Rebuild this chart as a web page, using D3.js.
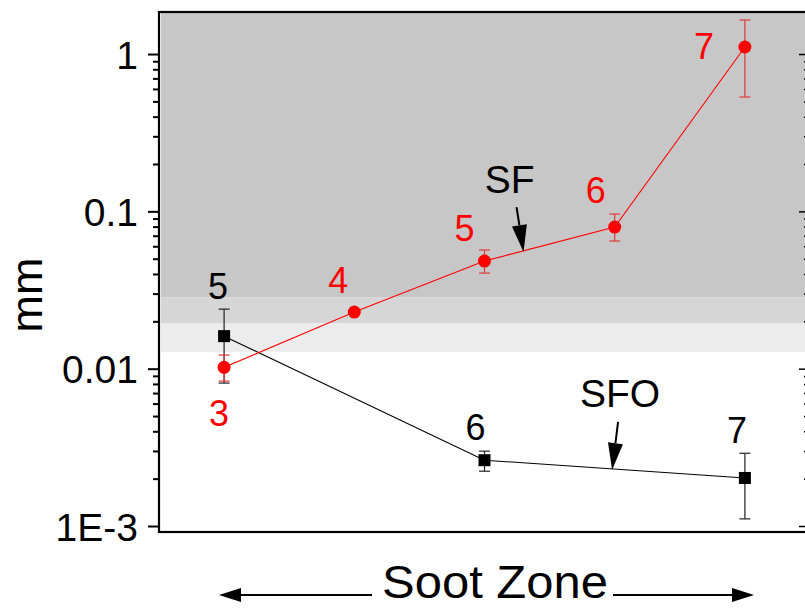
<!DOCTYPE html>
<html><head><meta charset="utf-8">
<script src="https://cdn.jsdelivr.net/npm/d3@7"></script>
<style>
html,body{margin:0;padding:0;background:#fff;}
svg{display:block;font-family:"Liberation Sans",Arial,sans-serif;}
</style></head>
<body><svg id="chart" width="805" height="608"></svg>
<script>
// ---- data ----
const sfPos = [1, 2, 3, 4, 5];
const sfLabels = ["3", "4", "5", "6", "7"];
const sfValues = [0.0102, 0.0229, 0.0483, 0.0795, 1.108];
const sfErrLow = [0.00834, null, 0.0405, 0.0648, 0.533];
const sfErrHigh = [0.0122, null, 0.0568, 0.0961, 1.645];

const sfoPos = [1, 3, 5];
const sfoLabels = ["5", "6", "7"];
const sfoValues = [0.0161, 0.00262, 0.00202];
const sfoErrLow = [0.0081, 0.00223, 0.00111];
const sfoErrHigh = [0.0239, 0.00299, 0.0029];

const yTickValues = [0.001, 0.01, 0.1, 1];
const yTickLabels = ["1E-3", "0.01", "0.1", "1"];
const bandLimits = [0.0285, 0.0195, 0.0128]; // lower edges of shaded bands
const yTitle = "mm";
const xTitle = "Soot Zone";
const sfNote = {text: "SF", x: 3.30, y: 0.0551};
const sfoNote = {text: "SFO", x: 3.98, y: 0.00227};

// ---- layout ----
const svg = d3.select("#chart");
const L = 159, R = 810, T = 12, B = 532;
const x = d3.scaleLinear().domain([0.5, 5.5]).range([L, R]);
const y = d3.scaleLog().domain([0.000916, 1.85]).range([B, T]);

// shaded bands
const bandColors = ["#c7c7c7", "#d6d6d6", "#ececec"];
let prevTop = T;
bandLimits.forEach((v, i) => {
  const yb = y(v);
  svg.append("rect").attr("x", L + 2).attr("y", prevTop).attr("width", R - L)
     .attr("height", yb - prevTop).attr("fill", bandColors[i]);
  prevTop = yb;
});

// axes
const minor = [];
for (let e = -4; e <= 0; e++) for (let k = 2; k <= 9; k++) {
  const v = k * Math.pow(10, e);
  if (v >= y.domain()[0] && v <= y.domain()[1]) minor.push(v);
}
const fmt = d => yTickLabels[yTickValues.indexOf(d)];
const gL = svg.append("g").attr("transform", `translate(${L},0)`);
gL.call(d3.axisLeft(y).tickValues(yTickValues).tickFormat(fmt).tickSize(11).tickPadding(10));
gL.append("g").call(d3.axisLeft(y).tickValues(minor).tickFormat("").tickSize(6));
gL.selectAll(".domain").remove();
gL.selectAll("line").attr("stroke", "#000").attr("stroke-width", 2);
gL.selectAll("text").attr("font-size", 39).attr("fill", "#000")
  .attr("font-family", "'Liberation Sans',Arial,sans-serif").attr("dy", "0.36em");

const gR = svg.append("g").attr("transform", `translate(${R},0)`);
gR.call(d3.axisLeft(y).tickValues(yTickValues).tickFormat("").tickSize(11));
gR.append("g").call(d3.axisLeft(y).tickValues(minor).tickFormat("").tickSize(6));
gR.selectAll(".domain").remove();
gR.selectAll("line").attr("stroke", "#000").attr("stroke-width", 1.5);

// frame
svg.append("rect").attr("x", L).attr("y", T).attr("width", R - L).attr("height", B - T)
   .attr("fill", "none").attr("stroke", "#000").attr("stroke-width", 2.2);

// series drawing helper
function drawSeries(pos, vals, lo, hi, color, errColor, marker) {
  const pts = pos.map((p, i) => [x(p), y(vals[i])]);
  svg.append("path").attr("d", d3.line()(pts)).attr("fill", "none")
     .attr("stroke", color).attr("stroke-width", 1.1);
  pos.forEach((p, i) => {
    if (lo[i] == null) return;
    const cx = x(p), y1 = y(hi[i]), y2 = y(lo[i]);
    const g = svg.append("g").attr("stroke", errColor).attr("stroke-width", 1.2);
    g.append("line").attr("x1", cx).attr("x2", cx).attr("y1", y1).attr("y2", y2);
    g.append("line").attr("x1", cx - 5.5).attr("x2", cx + 5.5).attr("y1", y1).attr("y2", y1);
    g.append("line").attr("x1", cx - 5.5).attr("x2", cx + 5.5).attr("y1", y2).attr("y2", y2);
  });
  pts.forEach(([px, py]) => {
    if (marker === "circle") svg.append("circle").attr("cx", px).attr("cy", py).attr("r", 6.5).attr("fill", color);
    else svg.append("rect").attr("x", px - 6).attr("y", py - 6).attr("width", 12).attr("height", 12).attr("fill", color);
  });
}
drawSeries(sfoPos, sfoValues, sfoErrLow, sfoErrHigh, "#000", "#222", "square");
drawSeries(sfPos, sfValues, sfErrLow, sfErrHigh, "#ff0000", "#e03a3a", "circle");

// point labels (offsets from their points)
const sfOff = [[-5, 59], [-16, -19], [-20, -20], [-19, -24], [-41, 12]];
const sfoOff = [[-6, -37], [-9, -20], [-8, -35]];
sfPos.forEach((p, i) => svg.append("text").attr("x", x(p) + sfOff[i][0]).attr("y", y(sfValues[i]) + sfOff[i][1])
  .attr("text-anchor", "middle").attr("font-size", 36).attr("fill", "#ff0000").text(sfLabels[i]));
sfoPos.forEach((p, i) => svg.append("text").attr("x", x(p) + sfoOff[i][0]).attr("y", y(sfoValues[i]) + sfoOff[i][1])
  .attr("text-anchor", "middle").attr("font-size", 36).attr("fill", "#000").text(sfoLabels[i]));

// arrow helper
function arrow(x1, y1, x2, y2, headLen, headW) {
  const ang = Math.atan2(y2 - y1, x2 - x1);
  const bx = x2 - headLen * Math.cos(ang), by = y2 - headLen * Math.sin(ang);
  const nx = -Math.sin(ang) * headW / 2, ny = Math.cos(ang) * headW / 2;
  svg.append("line").attr("x1", x1).attr("y1", y1).attr("x2", bx).attr("y2", by)
     .attr("stroke", "#000").attr("stroke-width", 2);
  svg.append("path").attr("d", `M${x2},${y2}L${bx + nx},${by + ny}L${bx - nx},${by - ny}Z`).attr("fill", "#000");
}
// SF annotation
{
  const tx = x(sfNote.x), ty = y(sfNote.y);
  arrow(tx - 7, ty - 45, tx, ty, 27, 15);
  svg.append("text").attr("x", tx - 14).attr("y", ty - 59).attr("text-anchor", "middle")
     .attr("font-size", 39).attr("fill", "#000").text(sfNote.text);
}
// SFO annotation
{
  const tx = x(sfoNote.x), ty = y(sfoNote.y);
  arrow(tx + 6, ty - 48, tx, ty, 27, 15);
  svg.append("text").attr("x", tx + 8).attr("y", ty - 63).attr("text-anchor", "middle")
     .attr("font-size", 39).attr("fill", "#000").text(sfoNote.text);
}

// y title
svg.append("text").attr("transform", "translate(42,295) rotate(-90)").attr("text-anchor", "middle")
   .attr("font-size", 45).attr("fill", "#000").text(yTitle);

// x title with arrows
svg.append("text").attr("x", 495).attr("y", 598).attr("text-anchor", "middle")
   .attr("font-size", 46).attr("textLength", 226).attr("lengthAdjust", "spacingAndGlyphs")
   .attr("fill", "#000").text(xTitle);
arrow(372, 595, 219, 595, 22, 14);
arrow(613, 595, 754, 595, 22, 14);
</script></body></html>
